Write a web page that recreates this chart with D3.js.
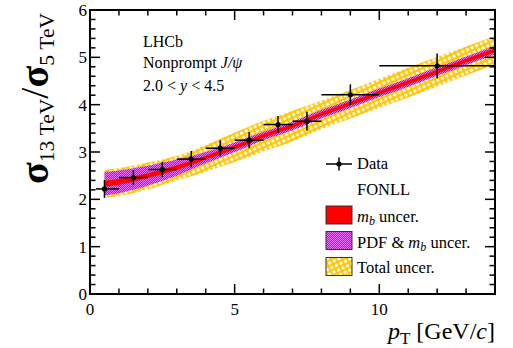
<!DOCTYPE html>
<html><head><meta charset="utf-8">
<script src="https://cdn.jsdelivr.net/npm/d3@7"></script>
<style>body{margin:0;background:#fff}svg{display:block}text{font-family:"Liberation Serif","Times New Roman",serif;fill:#000}</style>
</head><body><svg id="c" width="513" height="348"></svg>
<script>
// ---- data ----
const ptCenter = [0.5, 1.5, 2.5, 3.5, 4.5, 5.5, 6.5, 7.5, 9, 12];
const ptLow    = [0.2, 1, 2, 3, 4, 5, 6, 7, 8, 10];
const ptHigh   = [1, 2, 3, 4, 5, 6, 7, 8, 10, 14];
const ratio    = [2.22, 2.46, 2.63, 2.85, 3.08, 3.25, 3.58, 3.65, 4.21, 4.82];
const ratioErr = [0.19, 0.16, 0.16, 0.17, 0.17, 0.17, 0.18, 0.20, 0.22, 0.26];

const fonllPt   = [0.5, 1, 2, 3, 4, 5, 6, 7, 8, 9, 10, 11, 12, 13, 14];
const fonllMbLow  = [2.27,2.31,2.45,2.62,2.84,3.06,3.30,3.51,3.76,3.98,4.21,4.43,4.66,4.89,5.11];
const fonllMbHigh = [2.39,2.43,2.55,2.72,2.92,3.14,3.38,3.59,3.84,4.06,4.29,4.51,4.74,4.97,5.19];
const fonllPdfLow = [2.08,2.13,2.29,2.50,2.76,3.00,3.25,3.46,3.71,3.93,4.16,4.38,4.61,4.84,5.06];
const fonllPdfHigh= [2.58,2.61,2.71,2.84,3.00,3.20,3.43,3.64,3.89,4.11,4.34,4.56,4.79,5.02,5.24];
const fonllTotLow = [2.03,2.07,2.21,2.40,2.58,2.79,3.01,3.22,3.48,3.71,3.93,4.15,4.38,4.62,4.85];
const fonllTotHigh= [2.62,2.66,2.78,2.92,3.15,3.41,3.66,3.87,4.09,4.31,4.55,4.78,5.01,5.23,5.45];

const xTicks = [0, 5, 10];
const yTicks = [0, 1, 2, 3, 4, 5, 6];

// ---- layout ----
const svg = d3.select("#c");
const L = 90, R = 495, T = 10, B = 294;
const x = d3.scaleLinear([0, 14], [L, R]);
const y = d3.scaleLinear([0, 6], [B, T]);

const defs = svg.append("defs");
const pY = defs.append("pattern").attr("id","hatchY").attr("patternUnits","userSpaceOnUse")
  .attr("width",5).attr("height",5).attr("patternTransform","rotate(-25)");
pY.append("rect").attr("width",5).attr("height",5).attr("fill","#ffc400");
pY.append("rect").attr("x",1.3).attr("y",1.3).attr("width",2.9).attr("height",2.9).attr("fill","#fff");
const pM = defs.append("pattern").attr("id","hatchM").attr("patternUnits","userSpaceOnUse")
  .attr("width",2).attr("height",2);
pM.append("rect").attr("width",2).attr("height",2).attr("fill","#c800ff");
pM.append("rect").attr("width",1).attr("height",1).attr("fill","#ee70ff");
pM.append("rect").attr("x",1).attr("y",1).attr("width",1).attr("height",1).attr("fill","#ee70ff");

const clip = defs.append("clipPath").attr("id","plotclip");
clip.append("rect").attr("x",L).attr("y",T).attr("width",R-L).attr("height",B-T);

const band = (lo, hi) => d3.area()
  .x((d,i) => x(fonllPt[i])).y0((d,i) => y(lo[i])).y1((d,i) => y(hi[i]))
  .curve(d3.curveMonotoneX)(fonllPt);

const g = svg.append("g").attr("clip-path","url(#plotclip)");
g.append("path").attr("d", band(fonllTotLow, fonllTotHigh)).attr("fill","url(#hatchY)");
g.append("path").attr("d", band(fonllPdfLow, fonllPdfHigh)).attr("fill","url(#hatchM)");
g.append("path").attr("d", band(fonllMbLow, fonllMbHigh)).attr("fill","#ff0000");

// data points
const pts = g.append("g").attr("stroke","#000").attr("stroke-width",1.5);
ptCenter.forEach((p,i) => {
  pts.append("line").attr("x1",x(ptLow[i])).attr("x2",x(ptHigh[i])).attr("y1",y(ratio[i])).attr("y2",y(ratio[i]));
  pts.append("line").attr("x1",x(p)).attr("x2",x(p)).attr("y1",y(ratio[i]-ratioErr[i])).attr("y2",y(ratio[i]+ratioErr[i]));
});
g.append("g").selectAll("circle").data(ptCenter).join("circle")
  .attr("cx", d => x(d)).attr("cy", (d,i) => y(ratio[i])).attr("r",2.6).attr("fill","#000");

// axes
const ax = svg.append("g").attr("stroke","#000");
ax.append("rect").attr("x",L).attr("y",T).attr("width",R-L).attr("height",B-T)
  .attr("fill","none").attr("stroke-width",2);
d3.range(0, 6.001, 0.2).forEach(v => {
  const major = Math.abs(v - Math.round(v)) < 1e-6;
  const len = major ? 10 : 5.5;
  ax.append("line").attr("x1",L).attr("x2",L+len).attr("y1",y(v)).attr("y2",y(v)).attr("stroke-width",1.5);
  ax.append("line").attr("x1",R).attr("x2",R-len).attr("y1",y(v)).attr("y2",y(v)).attr("stroke-width",1.5);
});
d3.range(0, 14.001, 1).forEach(v => {
  const major = v % 5 === 0;
  const len = major ? 10 : 5.5;
  ax.append("line").attr("x1",x(v)).attr("x2",x(v)).attr("y1",B).attr("y2",B-len).attr("stroke-width",1.5);
  ax.append("line").attr("x1",x(v)).attr("x2",x(v)).attr("y1",T).attr("y2",T+len).attr("stroke-width",1.5);
});

svg.append("g").selectAll("text").data(yTicks).join("text")
  .attr("x",87).attr("y",d => y(d)).attr("dy","0.35em").attr("text-anchor","end")
  .attr("font-size",17).text(d => d);
svg.append("g").selectAll("text").data(xTicks).join("text")
  .attr("x",d => x(d)).attr("y",315).attr("text-anchor","middle")
  .attr("font-size",17).text(d => d);

// x title
const xt = svg.append("text").attr("x",495).attr("y",339).attr("text-anchor","end").attr("font-size",24);
xt.append("tspan").attr("font-style","italic").text("p");
xt.append("tspan").attr("font-size",17).attr("dy",5).text("T");
xt.append("tspan").attr("dy",-5).text(" [GeV/");
xt.append("tspan").attr("font-style","italic").text("c");
xt.append("tspan").text("]");

// y title
const yt = svg.append("text").attr("transform","translate(48,13) rotate(-90)").attr("text-anchor","end").attr("font-size",40);
yt.append("tspan").attr("font-weight","bold").text("σ");
yt.append("tspan").attr("font-size",21.5).attr("dy",6).text("13 TeV");
yt.append("tspan").attr("dy",-6).text("/");
yt.append("tspan").attr("font-weight","bold").text("σ");
yt.append("tspan").attr("font-size",21.5).attr("dy",6).text("5 TeV");

// LHCb label
const lab = svg.append("g").attr("font-size",16);
lab.append("text").attr("x",143).attr("y",47).text("LHCb");
const l2 = lab.append("text").attr("x",143).attr("y",68);
l2.append("tspan").text("Nonprompt ");
l2.append("tspan").attr("font-style","italic").text("J/ψ");
const l3 = lab.append("text").attr("x",143).attr("y",91);
l3.append("tspan").text("2.0 < ");
l3.append("tspan").attr("font-style","italic").text("y");
l3.append("tspan").text(" < 4.5");

// legend
const lg = svg.append("g").attr("font-size",16.5);
const bx = 326, bw = 26, bh = 18, tx = 357;
lg.append("line").attr("x1",326).attr("x2",352).attr("y1",164).attr("y2",164).attr("stroke","#000").attr("stroke-width",1.5);
lg.append("line").attr("x1",339).attr("x2",339).attr("y1",157.5).attr("y2",170.5).attr("stroke","#000").attr("stroke-width",1.5);
lg.append("circle").attr("cx",339).attr("cy",164).attr("r",2.6).attr("fill","#000");
lg.append("text").attr("x",tx).attr("y",169).text("Data");
lg.append("text").attr("x",tx).attr("y",195).text("FONLL");
const boxes = [["#ff0000",206],["url(#hatchM)",231.5],["url(#hatchY)",257.5]];
boxes.forEach(([f,yy]) => lg.append("rect").attr("x",bx).attr("y",yy).attr("width",bw).attr("height",bh)
  .attr("fill",f).attr("stroke","#333").attr("stroke-width",1));
const t1 = lg.append("text").attr("x",tx).attr("y",221.5);
t1.append("tspan").attr("font-style","italic").text("m");
t1.append("tspan").attr("font-style","italic").attr("font-size",12).attr("dy",3).text("b");
t1.append("tspan").attr("dy",-3).text(" uncer.");
const t2 = lg.append("text").attr("x",tx).attr("y",247.5);
t2.append("tspan").text("PDF & ");
t2.append("tspan").attr("font-style","italic").text("m");
t2.append("tspan").attr("font-style","italic").attr("font-size",12).attr("dy",3).text("b");
t2.append("tspan").attr("dy",-3).text(" uncer.");
lg.append("text").attr("x",tx).attr("y",272.5).text("Total uncer.");
</script></body></html>
